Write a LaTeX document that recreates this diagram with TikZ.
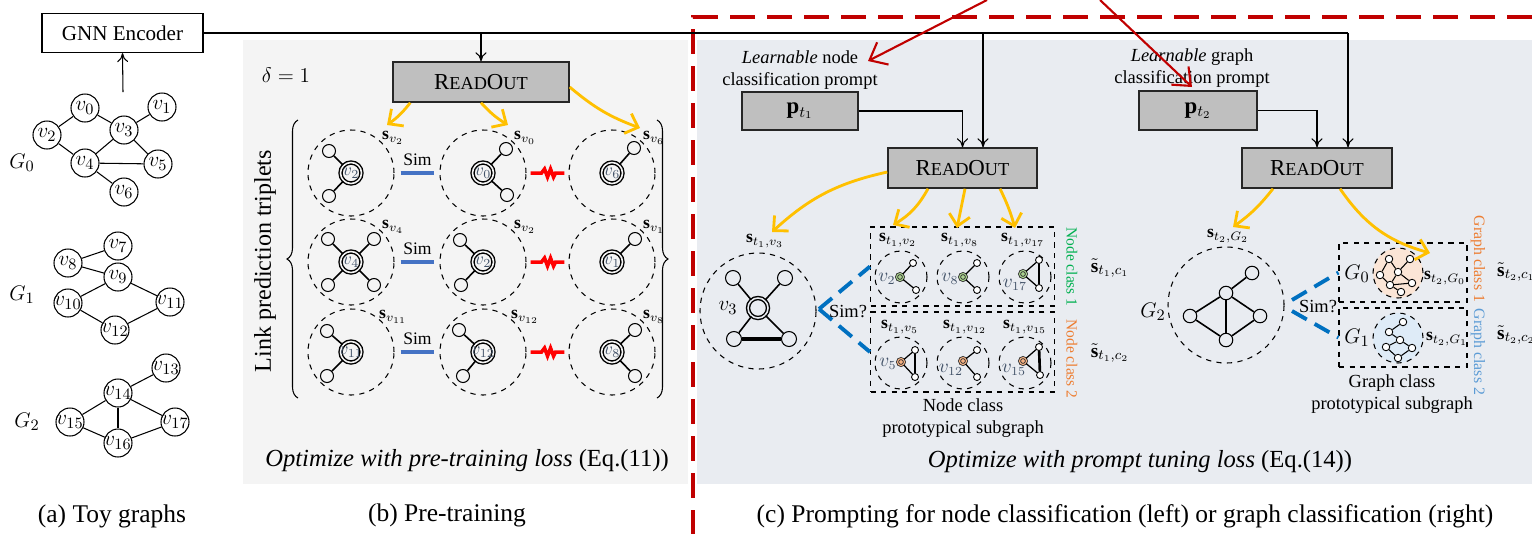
\documentclass[tikz,border=0pt]{standalone}
\usepackage{amsmath, amssymb}
\usepackage{fontspec}
\setmainfont{Liberation Serif}
\usepackage{tikz}
\usetikzlibrary{arrows.meta, calc, decorations.pathreplacing}
\usepackage{xcolor}
\definecolor{bgpre}{HTML}{F4F4F4}
\definecolor{bgprompt}{HTML}{E9ECF1}
\definecolor{boxgray}{HTML}{BFBFBF}
\definecolor{arrorange}{HTML}{FFC000}
\definecolor{dashred}{HTML}{C00000}
\definecolor{simblue}{HTML}{4472C4}
\definecolor{simdashc}{HTML}{0070C0}
\definecolor{brkred}{HTML}{FF0000}
\definecolor{labgray}{HTML}{44546A}
\definecolor{cls1}{HTML}{00B050}
\definecolor{cls2}{HTML}{ED7D31}
\definecolor{gcls2}{HTML}{5B9BD5}
\definecolor{ngreen}{HTML}{A9D18E}
\definecolor{norange}{HTML}{F4B183}
\definecolor{peach}{HTML}{FBE5D6}
\definecolor{lblue}{HTML}{DEEBF7}

\newcommand{\fsz}[1]{\fontsize{#1}{#1}\selectfont}
\newcommand{\rdout}{{\fsz{13}R}{\fsz{10.4}EAD}{\fsz{13}O}{\fsz{10.4}UT}}

\begin{document}
\begin{tikzpicture}[x=0.2mm, y=-0.2mm, >={To[length=1.8mm, width=2.2mm]},
  toy/.style={circle, draw, line width=0.6pt, fill=white, minimum size=5.6mm, inner sep=0pt},
  rbox/.style={draw=black!85, line width=0.8pt, fill=boxgray, inner sep=0pt},
  dcirc/.style={circle, draw, dashed, line width=0.6pt, inner sep=0pt},
  hub/.style={circle, draw, line width=0.8pt, fill=#1, double=#1, double distance=0.9pt, minimum size=4.2mm, inner sep=0pt},
  leaf/.style={circle, draw, line width=0.6pt, fill=#1, minimum size=2.6mm, inner sep=0pt},
  mcore/.style={circle, draw=black!80, line width=0.5pt, fill=#1, double=#1, double distance=0.6pt, minimum size=1.4mm, inner sep=0pt},
  mleaf/.style={circle, draw, line width=0.5pt, fill=white, minimum size=1.4mm, inner sep=0pt},
  orarrow/.style={draw=arrorange, line width=1.6pt, -{Straight Barb[length=2.2mm, width=4.2mm]}},
  redarr/.style={draw=dashred, line width=1.2pt, -{Straight Barb[length=3mm, width=5mm]}},
  simline/.style={draw=simblue, line width=2pt},
  simdash/.style={draw=simdashc, line width=2.2pt, dash pattern=on 3.4mm off 1.8mm},
  brk/.style={draw=brkred, line width=2pt},
  lnk/.style={line width=0.6pt}]
  \useasboundingbox (0,0) rectangle (1532,534);

  % panels
  \fill[bgpre] (243,40) rectangle (688,484);
  \fill[bgprompt] (697,40) rectangle (1532,484);
  \draw[dashred, line width=2pt, dash pattern=on 5mm off 2.4mm] (1532,17) -- (693,17) -- (693,534);

  % (a) toy graphs
  \node[draw, line width=0.7pt, minimum width=32.2mm, minimum height=7.8mm, font=\fsz{12}] (gnn) at (122.5,33) {GNN Encoder};
  \foreach \n/\x/\y in {0/85/108, 1/162/107, 2/47/135, 3/124/130, 4/85/163, 5/158/164, 6/124/192,
      7/118/246, 8/68/263, 9/118/277, 10/68/303, 11/170/302, 12/115/330,
      13/166/368, 14/118/393, 15/70/422, 16/118/443, 17/175/422}
    \node[toy, label={[font=\fsz{13}]center:$v_{\n}$}] (v\n) at (\x,\y) {};
  \foreach \a/\b in {0/2, 0/3, 3/1, 2/4, 3/4, 3/5, 4/5, 4/6, 8/7, 8/9, 9/10, 9/11, 10/12, 11/12,
      14/13, 14/15, 14/16, 14/17, 15/16, 16/17}
    \draw[lnk] (v\a) -- (v\b);
  \node[font=\fsz{13}] (lg0) at (22,163) {$G_0$};
  \node[font=\fsz{13}] (lg1) at (22,295) {$G_1$};
  \node[font=\fsz{13}] (lg2) at (27,422) {$G_2$};
  \coordinate (g0top) at (123,92);
  \draw[lnk, ->] (g0top) -- (gnn.south);
  \node[font=\fsz{14.5}] (capa) at (112,516) {(a) Toy graphs};

  % (b) pre-training
  \node[font=\fsz{13}] (delta) at (286,75) {$\delta = 1$};
  \node[rbox, minimum width=35.2mm, minimum height=8mm] (ro1) at (481,82) {\rdout};
  \node[rotate=90, font=\fsz{13.7}] (lpt) at (265,261) {Link prediction triplets};
  \draw[decorate, decoration={brace, amplitude=2.2mm}, lnk] (298,398) -- (298,120);
  \draw[decorate, decoration={brace, amplitude=2.2mm}, lnk] (657,120) -- (657,398);
  \foreach \r/\cy in {1/173, 2/262, 3/352}
    \foreach \c/\cx in {1/351, 2/483, 3/612}
      \node[dcirc, minimum size=17.2mm] (c\r\c) at (\cx,\cy) {};
  \foreach \i/\cx/\cy/\lab/\leaves in {
      11/351/173/2/{-22/-22,-22/23}, 12/483/173/0/{23/-24,24/22}, 13/612/173/6/{22/-25},
      21/351/262/4/{-23/-23,23/-23,-23/23,23/23}, 22/483/262/2/{-23/-22,-22/23}, 23/612/262/1/{23/-23},
      31/351/352/11/{-24/-21,-24/24}, 32/483/352/12/{-24/-22,-20/24}, 33/612/352/8/{23/-22,23/24}} {
    \node[hub=bgpre, label={[font=\fsz{10}, text=labgray]center:$v_{\lab}$}] (h\i) at (\cx,\cy) {};
    \foreach \dx/\dy [count=\j] in \leaves {
      \node[leaf=bgpre] (l\i-\j) at (\cx+\dx,\cy+\dy) {};
      \draw[line width=0.9pt] (h\i) -- (l\i-\j);
    }
    \node[font=\fsz{10}] (sv\i) at (\cx+42,\cy-35) {$\mathbf{s}_{v_{\lab}}$};
  }
  \foreach \r in {1,2,3} {
    \draw[simline] ([xshift=1.2mm]c\r1.east) -- node[above, font=\fsz{10}] (sim\r) {Sim} ([xshift=-1mm]c\r2.west);
    \draw[brk] ([xshift=0.8mm]c\r2.east) -- ++(11,0) -- ++(3,-4) -- ++(3,8) -- ++(3,-8) -- ++(3,8) -- ++(2,-4) -- ([xshift=-0.8mm]c\r3.west);
  }
  \coordinate (ta1) at (387,125);
  \coordinate (ta2) at (508,125);
  \coordinate (ta3) at (640,128);
  \draw[orarrow] ([xshift=3.6mm]ro1.south west) to[bend left=8] (ta1);
  \draw[orarrow] (ro1.south) to[bend right=8] (ta2);
  \draw[orarrow] ([yshift=-1mm]ro1.east) to[bend right=10] (ta3);
  \node[font=\fsz{14}] (optb) at (467,461) {\textit{Optimize with pre-training loss} (Eq.(11))};
  \node[font=\fsz{14.5}] (capb) at (447,515) {(b) Pre-training};

  % (c) node classification prompt
  \node[font={\fontsize{10.5}{12.5}\selectfont}, align=center] (lrn1) at (800,70) {\textit{Learnable} node\\classification prompt};
  \node[rbox, minimum width=23.2mm, minimum height=7.6mm, font=\fsz{13}] (pt1) at (800,111) {$\mathbf{p}_{t_1}$};
  \node[rbox, minimum width=29.8mm, minimum height=8mm] (ro2) at (962.5,168) {\rdout};
  \node[dcirc, minimum size=23.2mm] (cv3) at (758,311) {};
  \node[hub=bgprompt, minimum size=4mm] (hv3) at (758,308) {};
  \foreach \j/\x/\y in {1/733/278, 2/785/278, 3/734/339, 4/789/339} {
    \node[leaf=bgprompt, minimum size=3mm] (lv\j) at (\x,\y) {};
    \draw[line width=0.9pt] (hv3) -- (lv\j);
  }
  \draw[line width=1.8pt] (lv3) -- (lv4);
  \node[font=\fsz{13}] (labv3) at (728,308) {$v_3$};
  \node[font=\fsz{10}] (st3) at (765,241) {$\mathbf{s}_{t_1,v_3}$};

  \node[draw, dashed, lnk, minimum width=36.8mm, minimum height=15.8mm] (box1) at (962.5,266.5) {};
  \node[draw, dashed, lnk, minimum width=36.8mm, minimum height=16mm] (box2) at (962.5,352) {};
  \foreach \i/\x/\y in {1/901/277, 2/963/277, 3/1025/277, 4/901/363, 5/963/363, 6/1025/363}
    \node[dcirc, minimum size=10.4mm] (mc\i) at (\x,\y) {};
  \foreach \i/\x/\y/\col/\ax/\ay/\bx/\by/\lab/\lx/\ly in {
      1/900/277/ngreen/913/263/916/290/2/887/279, 2/963/277/ngreen/977/263/977/290/8/950/279,
      3/1023/274/ngreen/1039/260/1039/288/17/1015/285, 4/901/362/norange/915/350/915/377/5/888/364,
      5/963/361/norange/977/350/977/377/12/951/370, 6/1023/361/norange/1039/347/1040/375/15/1014/370} {
    \node[mcore=\col] (mk\i) at (\x,\y) {};
    \node[mleaf] (ma\i) at (\ax,\ay) {};
    \node[mleaf] (mb\i) at (\bx,\by) {};
    \draw[line width=0.7pt] (mk\i) -- (ma\i);
    \draw[line width=0.7pt] (mk\i) -- (mb\i);
    \node[font=\fsz{10.5}, text=labgray] (mv\i) at (\lx,\ly) {$v_{\lab}$};
  }
  \foreach \i in {3,4,6}
    \draw[line width=1.5pt] (ma\i) -- (mb\i);
  \foreach \i/\x/\y/\lab in {1/898/240/2, 2/960/240/8, 3/1023/240/17, 4/900/327/5, 5/965/327/12, 6/1025/327/15}
    \node[font=\fsz{10}] (sl\i) at (\x,\y) {$\mathbf{s}_{t_1,v_{\lab}}$};
  \node[rotate=-90, text=cls1, font=\fsz{8.8}] (nc1) at (1072,267) {Node class 1};
  \node[rotate=-90, text=cls2, font=\fsz{8.8}] (nc2) at (1072,359) {Node class 2};
  \node[font=\fsz{11}] (st1c1) at (1110,268) {$\tilde{\mathbf{s}}_{t_1,c_1}$};
  \node[font=\fsz{11}] (st1c2) at (1110,353) {$\tilde{\mathbf{s}}_{t_1,c_2}$};
  \node[font={\fontsize{10.5}{12.5}\selectfont}, align=center] (ncp) at (963,418) {Node class\\prototypical subgraph};
  \coordinate (sa1) at (819,309);
  \draw[simdash] (sa1) -- (box1.west);
  \draw[simdash] (sa1) -- (box2.west);
  \node[font=\fsz{10.5}] (simq1) at (848,312) {Sim?};

  % (c) graph classification prompt
  \node[font={\fontsize{10.5}{12.5}\selectfont}, align=center] (lrn2) at (1192,68) {\textit{Learnable} graph\\classification prompt};
  \node[rbox, minimum width=23.6mm, minimum height=7.8mm, font=\fsz{13}] (pt2) at (1198,110.5) {$\mathbf{p}_{t_2}$};
  \node[rbox, minimum width=30mm, minimum height=8mm] (ro3) at (1317,168) {\rdout};
  \node[dcirc, minimum size=23.2mm] (cg2) at (1226,305) {};
  \foreach \n/\x/\y in {a/1252/273, b/1226/293, c/1190/316, d/1260/316, e/1226/340}
    \node[leaf=bgprompt, minimum size=2.7mm] (q\n) at (\x,\y) {};
  \foreach \a/\b in {a/b, b/c, b/d, b/e, c/e, d/e}
    \draw[line width=0.9pt] (q\a) -- (q\b);
  \node[font=\fsz{13}] (lgg2) at (1153,312) {$G_2$};
  \node[font=\fsz{10}] (sg2) at (1228,236) {$\mathbf{s}_{t_2,G_2}$};

  \node[draw, dashed, lnk, minimum width=25.6mm, minimum height=11.8mm] (boxa) at (1403,272.5) {};
  \node[draw, dashed, lnk, minimum width=25.6mm, minimum height=11.8mm] (boxb) at (1403,337.5) {};
  \node[circle, draw, dashed, lnk, fill=peach, minimum size=10mm] (gc0) at (1398,273) {};
  \node[circle, draw, dashed, lnk, fill=lblue, minimum size=10mm] (gc1) at (1398,338) {};
  \foreach \n/\x/\y in {0/1389/259, 1/1410/259, 2/1380/275, 3/1398/272, 4/1390/285, 5/1412/283, 6/1401/292,
      7/1403/322, 8/1389/332, 9/1400/340, 10/1386/347, 11/1412/348, 12/1398/358}
    \node[mleaf, minimum size=1.5mm] (m\n) at (\x,\y) {};
  \foreach \a/\b in {0/2, 0/3, 3/1, 2/4, 3/4, 3/5, 4/5, 4/6, 8/7, 8/9, 9/10, 9/11, 10/12, 11/12}
    \draw[line width=0.6pt] (m\a) -- (m\b);
  \node[font=\fsz{13}] (lga) at (1357,274) {$G_0$};
  \node[font=\fsz{13}] (lgb) at (1357,338) {$G_1$};
  \node[font=\fsz{10}] (sga) at (1445,278) {$\mathbf{s}_{t_2,G_0}$};
  \node[font=\fsz{10}] (sgb) at (1447,339) {$\mathbf{s}_{t_2,G_1}$};
  \node[rotate=-90, text=cls2, font=\fsz{9}] (gc1t) at (1478,259) {Graph class 1};
  \node[rotate=-90, text=gcls2, font=\fsz{9}] (gc2t) at (1478,352) {Graph class 2};
  \node[font=\fsz{11}, anchor=west] (st2c1) at (1491,272) {$\tilde{\mathbf{s}}_{t_2,c_1}$};
  \node[font=\fsz{11}, anchor=west] (st2c2) at (1491,335) {$\tilde{\mathbf{s}}_{t_2,c_2}$};
  \node[font={\fontsize{10.5}{12.5}\selectfont}, align=center] (gcp) at (1392,394) {Graph class\\prototypical subgraph};
  \coordinate (sb1) at (1292,300);
  \coordinate (sb2) at (1292,311);
  \draw[simdash] (sb1) -- (boxa.west);
  \draw[simdash] (sb2) -- (boxb.west);
  \node[font=\fsz{10.5}] (simq2) at (1318,307) {Sim?};

  \node[font=\fsz{14}] (optc) at (1140,462) {\textit{Optimize with prompt tuning loss} (Eq.(14))};
  \node[font=\fsz{14.5}] (capc) at (1125,516) {(c) Prompting for node classification (left) or graph classification (right)};

  % encoder output lines
  \coordinate (j2) at (983,33);
  \coordinate (j3) at (1348,33);
  \draw[line width=0.9pt] (gnn.east) -- (j3);
  \draw[lnk, ->] (ro1.north |- gnn.east) -- (ro1.north);
  \draw[lnk, ->] (j2) -- (j2 |- ro2.north);
  \draw[lnk, ->] (j3) -- (j3 |- ro3.north);
  \draw[lnk, ->] (pt1.east) -| (ro2.north);
  \draw[lnk, ->] (pt2.east) -| (ro3.north);

  % readout arrows
  \coordinate (tb0) at (772,232);
  \coordinate (tb1) at (893,225);
  \coordinate (tb2) at (957,228);
  \coordinate (tb3) at (1015,228);
  \coordinate (tc0) at (1233,227);
  \coordinate (tc1) at (1430,253);
  \draw[orarrow] ([yshift=-0.8mm]ro2.west) to[bend right=15] (tb0);
  \draw[orarrow] ([xshift=-6.9mm]ro2.south) to[bend left=15] (tb1);
  \draw[orarrow] ([xshift=0.5mm]ro2.south) to (tb2);
  \draw[orarrow] ([xshift=7.5mm]ro2.south) to[bend left=5] (tb3);
  \draw[orarrow] ([xshift=-8.8mm]ro3.south) to[bend left=8] (tc0);
  \draw[orarrow] ([xshift=4.6mm]ro3.south) to[bend right=20] (tc1);

  % red arrows
  \coordinate (rtop1) at (987,0);
  \coordinate (rtop2) at (1100,0);
  \draw[redarr] (rtop1) -- (868,61);
  \draw[redarr] (rtop2) -- (1192,87);
\end{tikzpicture}
\end{document}
